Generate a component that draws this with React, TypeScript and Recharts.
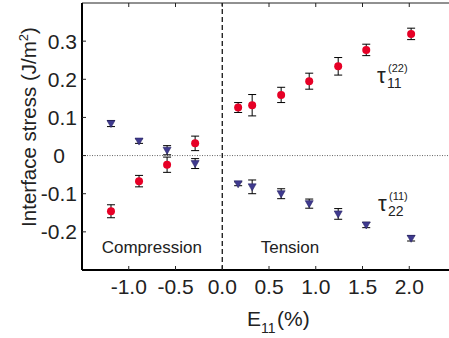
import React from 'react';
import { ScatterChart, Scatter, XAxis, YAxis, ErrorBar, ReferenceLine, ReferenceDot, Label } from 'recharts';

// strain E11 (%) and the two interface stress components (J/m^2)
const strain = [-1.19, -0.89, -0.59, -0.29, 0.17, 0.32, 0.63, 0.93, 1.24, 1.54, 2.02];
const tau11 = [-0.146, -0.067, -0.024, 0.032, 0.126, 0.132, 0.159, 0.195, 0.234, 0.277, 0.319];
const tau11Err = [0.017, 0.015, 0.02, 0.019, 0.013, 0.028, 0.02, 0.021, 0.023, 0.015, 0.015];
const tau22 = [0.084, 0.038, 0.014, -0.021, -0.074, -0.082, -0.1, -0.126, -0.153, -0.182, -0.217];
const tau22Err = [0.008, 0.006, 0.012, 0.013, 0.005, 0.018, 0.013, 0.012, 0.014, 0.007, 0.007];

const xTicks = [-1, -0.5, 0, 0.5, 1, 1.5, 2];
const yTicks = [-0.2, -0.1, 0, 0.1, 0.2, 0.3];

const tau11Data = strain.map((x, i) => ({ x, y: tau11[i], err: tau11Err[i] }));
const tau22Data = strain.map((x, i) => ({ x, y: tau22[i], err: tau22Err[i] }));

const FONT = '"Liberation Sans", Arial, sans-serif';
const INK = '#222';
const RED = '#e60026';
const BLUE = '#3f3a8f';

const BottomTick = (props: any) => {
  const { x, y, payload } = props;
  const axisY = y - 24;
  return (
    <g>
      <line x1={x} x2={x} y1={axisY} y2={axisY - 4} stroke={INK} strokeWidth={1} />
      <text x={x} y={y} textAnchor="middle" fontSize={21} fontFamily={FONT} fill={INK}>
        {Number(payload.value).toFixed(1)}
      </text>
    </g>
  );
};

const TopTick = (props: any) => {
  const { x, y } = props;
  return <line x1={x} x2={x} y1={y} y2={y + 4} stroke={INK} strokeWidth={1} />;
};

const LeftTick = (props: any) => {
  const { x, y, payload } = props;
  const v = Number(payload.value);
  return (
    <g>
      <line x1={x + 5} x2={x + 9} y1={y} y2={y} stroke={INK} strokeWidth={1} />
      <text x={v === 0 ? x - 12 : x} y={y} dy="0.36em" textAnchor="end" fontSize={21} fontFamily={FONT} fill={INK}>
        {v === 0 ? '0' : v.toFixed(1)}
      </text>
    </g>
  );
};

const Circle = (props: any) => <circle cx={props.cx} cy={props.cy} r={4} fill={RED} />;

const Triangle = (props: any) => {
  const { cx, cy } = props;
  return (
    <polygon
      points={`${cx - 4},${cy - 3} ${cx + 4},${cy - 3} ${cx},${cy + 4}`}
      fill={BLUE}
      stroke="#2a2566"
      strokeWidth={0.6}
    />
  );
};

const tauShape = (sub: string, sup: string) => (props: any) => {
  const { cx, cy } = props;
  return (
    <g fontFamily={FONT} fill={INK}>
      <text x={cx} y={cy} fontSize={22}>τ</text>
      <text x={cx + 11} y={cy - 11} fontSize={11}>{sup}</text>
      <text x={cx + 10} y={cy + 5} fontSize={14}>{sub}</text>
    </g>
  );
};

const wordShape = (word: string) => (props: any) => (
  <text x={props.cx} y={props.cy} fontSize={17} fontFamily={FONT} fill={INK}>{word}</text>
);

const XTitle = (props: any) => {
  const { viewBox } = props;
  const x = viewBox.x + 165;
  const y = viewBox.y + 56;
  return (
    <text x={x} y={y} fontSize={21} fontFamily={FONT} fill={INK}>
      <tspan>E</tspan>
      <tspan fontSize={14} dy={7}>11</tspan>
      <tspan fontSize={21} dy={-7} dx={1.5}>(%)</tspan>
    </text>
  );
};

const YTitle = () => (
  <text
    x={36}
    y={127}
    transform="rotate(-90 36 127)"
    textAnchor="middle"
    fontSize={20.5}
    fontFamily={FONT}
    fill={INK}
  >
    Interface stress (J/m
    <tspan fontSize={13} dy={-8}>2</tspan>
    <tspan fontSize={20.5} dy={8}>)</tspan>
  </text>
);

export default function App() {
  return (
    <div style={{ position: 'absolute', left: 0, top: 0, width: 449, height: 338, overflow: 'hidden', background: '#fff' }}>
      <ScatterChart width={456} height={338} margin={{ top: 2, right: 0, bottom: 0, left: 0 }}>
        <XAxis
          xAxisId="top"
          orientation="top"
          type="number"
          dataKey="x"
          domain={[-1.5, 2.5]}
          allowDataOverflow
          ticks={xTicks}
          height={1}
          tickSize={0}
          tickMargin={0}
          tickLine={false}
          tick={<TopTick />}
          axisLine={{ stroke: INK, strokeWidth: 1 }}
        />
        <XAxis
          type="number"
          dataKey="x"
          domain={[-1.5, 2.5]}
          allowDataOverflow
          ticks={xTicks}
          height={68}
          tickSize={0}
          tickMargin={24}
          tickLine={false}
          tick={<BottomTick />}
          axisLine={{ stroke: '#000', strokeWidth: 2 }}
        >
          <Label content={<XTitle />} />
        </XAxis>
        <YAxis
          type="number"
          dataKey="y"
          domain={[-0.3, 0.4]}
          allowDataOverflow
          ticks={yTicks}
          width={82}
          tickSize={0}
          tickMargin={5}
          tickLine={false}
          tick={<LeftTick />}
          axisLine={{ stroke: '#000', strokeWidth: 2 }}
        >
          <Label content={<YTitle />} />
        </YAxis>
        <ReferenceLine y={0} stroke="#666" strokeWidth={1} strokeDasharray="1 1.5" />
        <ReferenceLine x={0} stroke="#000" strokeWidth={1.2} strokeDasharray="5 3" />
        <Scatter data={tau22Data} shape={<Triangle />} isAnimationActive={false}>
          <ErrorBar dataKey="err" direction="y" width={4} stroke="#000" strokeWidth={1} />
        </Scatter>
        <Scatter data={tau11Data} shape={<Circle />} isAnimationActive={false}>
          <ErrorBar dataKey="err" direction="y" width={4} stroke="#000" strokeWidth={1} />
        </Scatter>
        <ReferenceDot x={1.655} y={0.1895} r={0} shape={tauShape('11', '(22)')} />
        <ReferenceDot x={1.666} y={-0.1453} r={0} shape={tauShape('22', '(11)')} />
        <ReferenceDot x={-1.289} y={-0.2554} r={0} shape={wordShape('Compression')} />
        <ReferenceDot x={0.411} y={-0.2554} r={0} shape={wordShape('Tension')} />
      </ScatterChart>
    </div>
  );
}
